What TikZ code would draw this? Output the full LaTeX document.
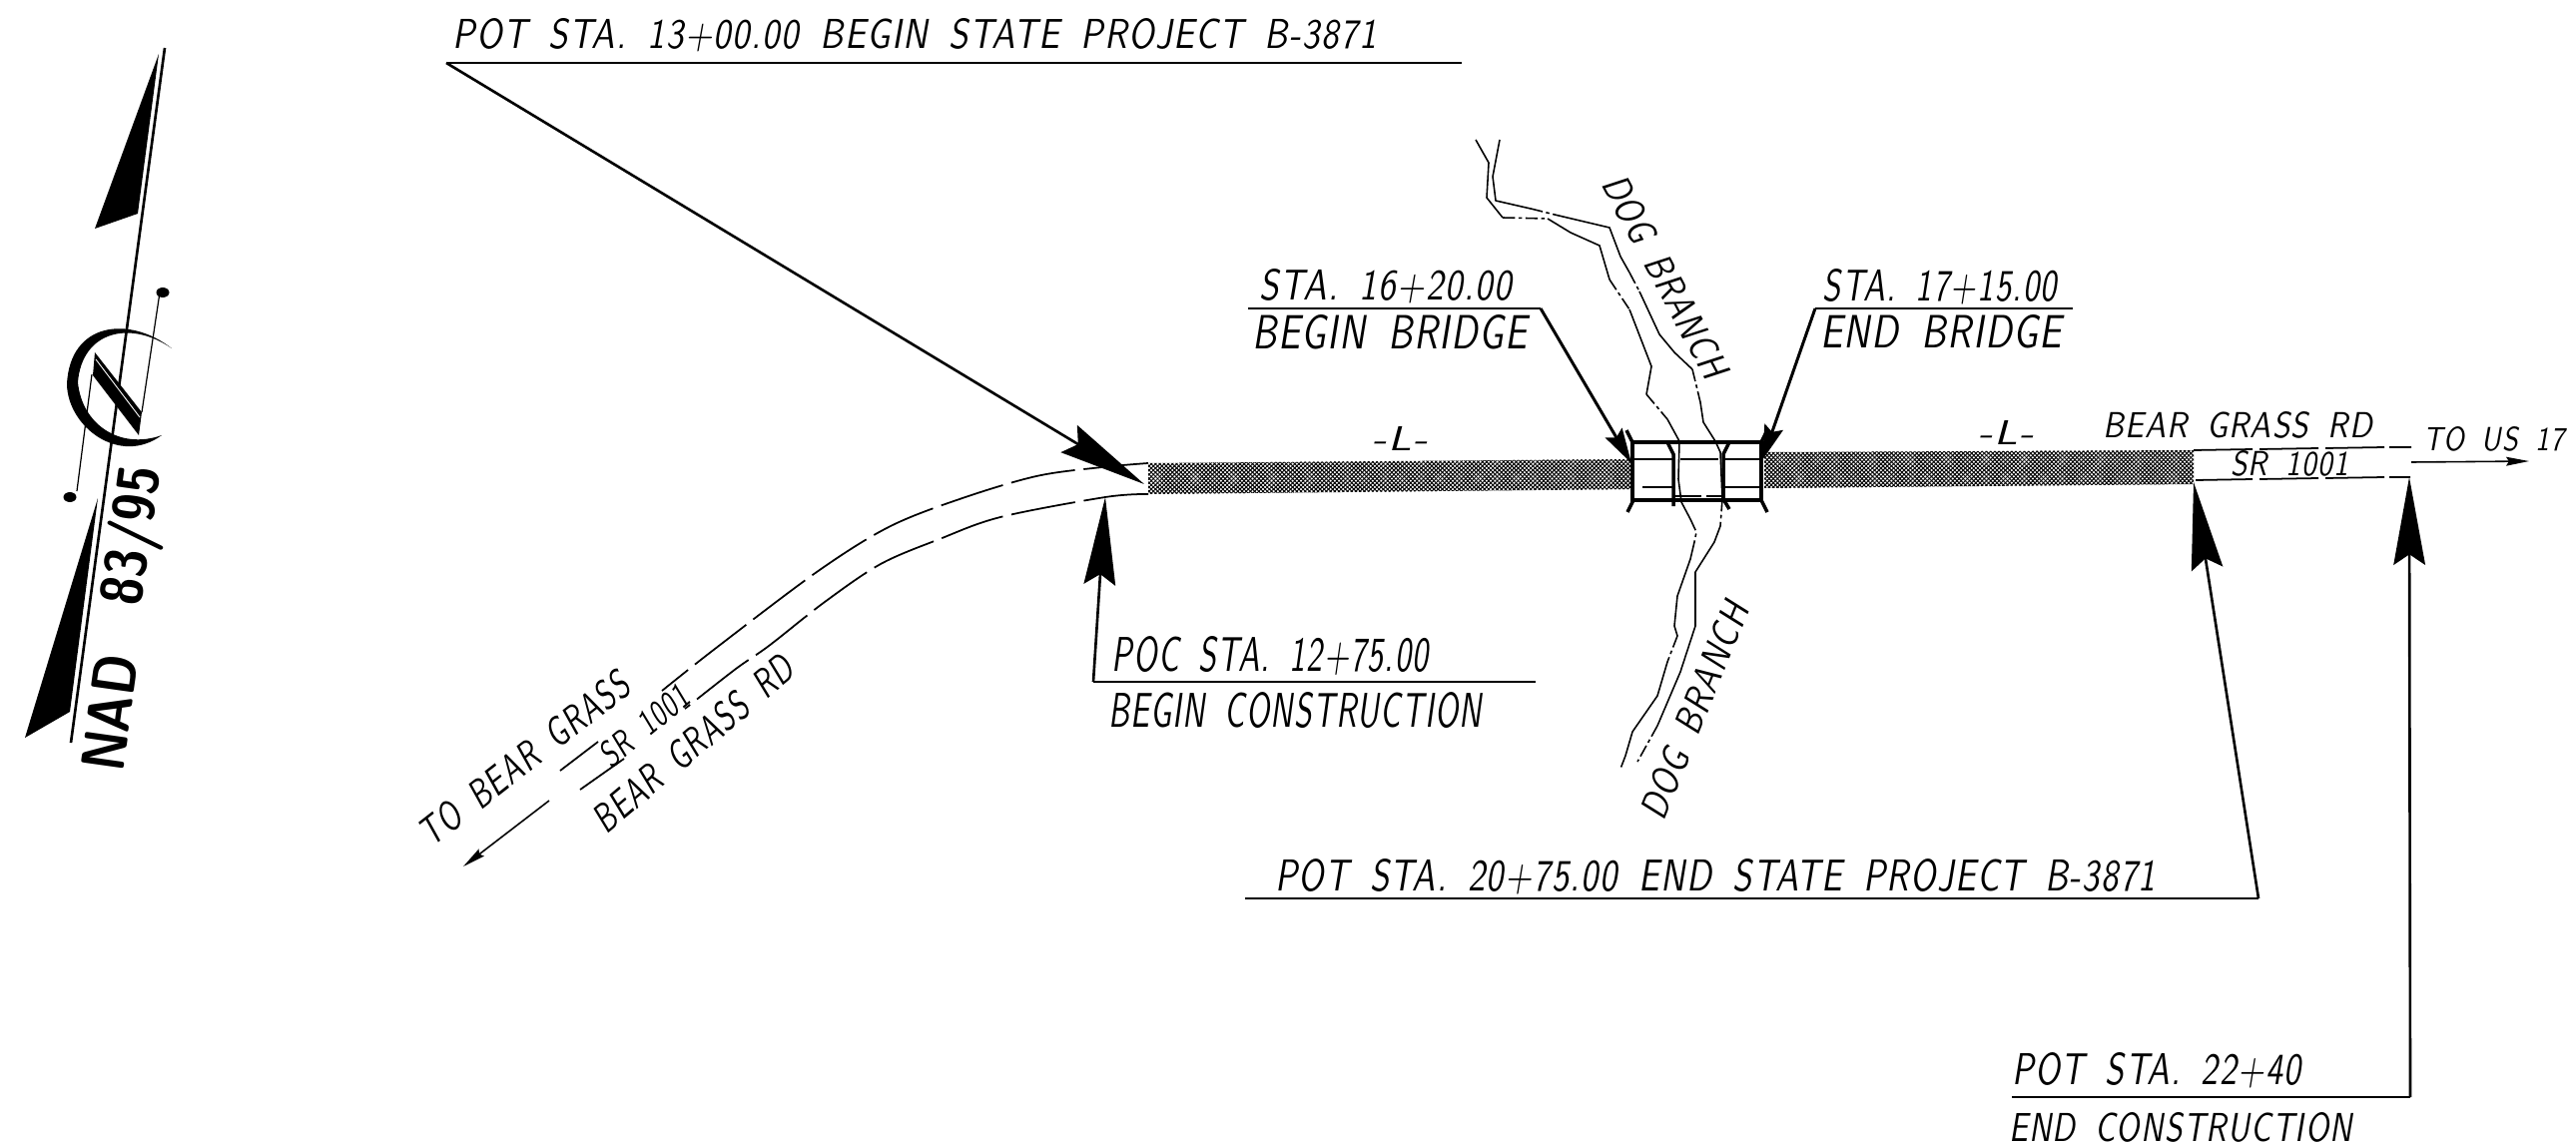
\documentclass[tikz,border=0pt]{standalone}
\usepackage{fontspec}
\setsansfont[LetterSpace=4]{Latin Modern Sans}
\newfontfamily\nadfont{Latin Modern Sans}
\usetikzlibrary{arrows.meta,patterns.meta}
\newdimen\un \un=0.02cm
\newcommand{\lbl}[7]{\node[lbltext,rotate=#4] (#1) at (#2,#3) {\resizebox{#5\un}{#6\un}{\sffamily\itshape\spaceskip=.62em #7}};}
\newcommand{\blbl}[7]{\node[lbltext,rotate=#4] (#1) at (#2,#3) {\resizebox{#5\un}{#6\un}{\nadfont\bfseries #7}};}
\tikzset{
 lbltext/.style={inner sep=0pt,outer sep=0pt},
 leader/.style={line width=1.5pt,line join=miter},
 bighead/.style={leader,-{Stealth[length=50pt,width=18pt,inset=6pt]}},
 smallhead/.style={line width=1.7pt,-{Stealth[length=20pt,width=11pt,inset=3pt]}},
 thinhead/.style={line width=.9pt,-{Stealth[length=13pt,width=5pt,inset=1.5pt]}},
 roadline/.style={line width=1pt},
 roaddash/.style={line width=1pt,dash pattern=on 37pt off 5pt},
 stream/.style={line width=.9pt,line join=round},
 streamdash/.style={line width=.9pt,dash pattern=on 7pt off 2pt on 2pt off 2pt},
 bridge/.style={line width=2pt},
 bridgethin/.style={line width=1pt},
 hatched/.style={postaction={pattern={Lines[angle=45,distance=1.7pt,line width=.58pt]}},postaction={pattern={Lines[angle=-45,distance=1.7pt,line width=.58pt]}}},
 solidk/.style={fill=black,draw=none}
}
\begin{document}
\begin{tikzpicture}[x=0.02cm,y=-0.02cm]
\useasboundingbox (0,0) rectangle (2580,1149);
% north arrow
\draw[line width=1.5pt] (165,48) -- (71,744);
\fill[solidk] (159,54) -- (95,229) -- (138,214) -- cycle;
\fill[solidk] (98,499) -- (25,739) -- (70,713) -- cycle;
\fill[solidk] (172,349) .. controls (130,316) and (70,322) .. (67,385) .. controls (68,428) and (120,467) .. (162,436) .. controls (120,451) and (82,425) .. (78,383) .. controls (82,332) and (130,320) .. (172,349) -- cycle;
\fill[solidk] (95,353) -- (142,413) -- (139,436) -- (93,376) -- cycle;
\draw[white,line width=.5pt] (96,360) -- (140,418);
\draw[line width=.7pt] (160,293) -- (142,413);
\draw[line width=.7pt] (77,492) -- (92,375);
\fill[solidk] (163,293) ellipse (6.5 and 5);
\fill[solidk] (70,498) ellipse (6.5 and 5);
\blbl{nad}{110}{714}{82}{117}{43}{NAD}
\blbl{datum}{136}{537}{82}{140}{44}{83/95}
% road shading
\path[hatched] (1150,464) -- (1635,460) -- (1635,490) -- (1150,495) -- cycle;
\path[hatched] (1767,453) -- (2197,451) -- (2197,485) -- (1767,489) -- cycle;
% road ahead, right end
\coordinate (rt0) at (2197,451); \coordinate (rt1) at (2256,450); \coordinate (rt2) at (2263,450);
\coordinate (rt3) at (2322,449); \coordinate (rt4) at (2329,449); \coordinate (rt5) at (2388,448); \coordinate (rt6) at (2393,448); \coordinate (rt7) at (2415,448);
\draw[roadline] (rt0)--(rt1) (rt2)--(rt3) (rt4)--(rt5) (rt6)--(rt7);
\coordinate (rb0) at (2199,481); \coordinate (rb1) at (2256,480); \coordinate (rb2) at (2263,480);
\coordinate (rb3) at (2322,479); \coordinate (rb4) at (2329,479); \coordinate (rb5) at (2388,478); \coordinate (rb6) at (2393,478); \coordinate (rb7) at (2414,478);
\draw[roadline] (rb0)--(rb1) (rb2)--(rb3) (rb4)--(rb5) (rb6)--(rb7);
\coordinate (usa) at (2415,463); \coordinate (usb) at (2533,462);
\draw[thinhead] (usa) -- (usb);
% road, left curve
\draw[roaddash] plot[smooth,tension=.55] coordinates {(1150,464) (1104,468) (1038,477) (961,500) (890,528) (818,573) (716,650) (663,692)};
\draw[roadline] (599,743) -- (561,772);
\draw[roaddash] plot[smooth,tension=.55] coordinates {(1150,495) (1107,498) (1002,518) (941,540) (882,565) (826,603) (770,647) (737,670) (686,710)};
\draw[roadline] (625,760) -- (581,791);
\coordinate (grassa) at (550,802); \coordinate (grassb) at (464,868);
\draw[thinhead] (grassa) -- (grassb);
% stream
\draw[stream] (1502,140) -- (1495,177) -- (1498,201) -- (1533,209);
\draw[streamdash] (1533,209) -- (1557,215);
\draw[stream] (1557,215) -- (1612,228) -- (1623,257) -- (1632,273);
\draw[streamdash] (1632,273) -- (1642,292);
\draw[stream] (1642,292) -- (1662,335) -- (1677,353) -- (1695,370);
\draw[streamdash] (1695,370) -- (1703,403);
\draw[stream] (1703,403) -- (1706,423) -- (1718,442) -- (1723,453) -- (1725,500);
\draw[streamdash] (1725,500) -- (1723,527);
\draw[stream] (1723,527) -- (1717,543) -- (1698,573) -- (1698,627) -- (1683,673) -- (1660,727);
\draw[streamdash] (1660,727) -- (1640,763);
\draw[stream] (1478,140) -- (1491,163) -- (1489,198) -- (1505,218);
\draw[streamdash] (1505,218) -- (1550,219);
\draw[stream] (1550,219) -- (1573,233) -- (1602,246) -- (1612,280);
\draw[streamdash] (1612,280) -- (1632,310);
\draw[stream] (1632,310) -- (1654,367) -- (1649,395);
\draw[streamdash] (1649,395) -- (1670,420);
\draw[stream] (1670,420) -- (1682,442) -- (1681,480) -- (1684,503) -- (1693,520);
\draw[streamdash] (1693,520) -- (1699,533) -- (1697,543);
\draw[stream] (1697,543) -- (1693,560) -- (1680,597) -- (1677,627) -- (1680,637);
\draw[streamdash] (1680,637) -- (1670,663);
\draw[stream] (1670,663) -- (1660,697) -- (1635,733) -- (1628,757);
\draw[streamdash] (1628,757) -- (1623,770);
% bridge
\draw[bridge] (1635,443) rectangle (1764,501);
\draw[bridge] (1629,431) -- (1635,443) (1636,501) -- (1630,513) (1770,431) -- (1764,443) (1764,501) -- (1770,513);
\draw[bridge] (1670,443) -- (1676,455) -- (1676,507);
\draw[bridge] (1732,443) -- (1726,455) -- (1726,500) -- (1732,510);
\draw[line width=1.5pt,dash pattern=on 16pt off 3pt] (1676,497) -- (1726,497);
\draw[bridgethin,dash pattern=on 22pt off 4pt] (1637,460) -- (1762,460);
\draw[bridgethin] (1645,488) -- (1676,488) (1726,488) -- (1763,488);
% labels with leaders
\coordinate (a1) at (1464,63); \coordinate (a2) at (447,63); \coordinate (a3) at (1146,485);
\draw[leader] (a1) -- (a2);
\draw[bighead] (a2) -- (a3);
\lbl{t1}{916}{35}{0}{925}{30}{POT STA. 13+00.00 BEGIN STATE PROJECT B-3871}

\coordinate (b1) at (1538,683); \coordinate (b2) at (1095,683); \coordinate (b3) at (1107,498);
\draw[leader] (b1) -- (b2);
\draw[bighead] (b2) -- (b3);
\lbl{t2a}{1272}{657}{0}{317}{35}{POC STA. 12+75.00}
\lbl{t2b}{1297}{712}{0}{374}{35}{BEGIN CONSTRUCTION}

\coordinate (c1) at (1250,309); \coordinate (c2) at (1543,309); \coordinate (c3) at (1634,464);
\draw[leader] (c1) -- (c2);
\draw[smallhead] (c2) -- (c3);
\lbl{t3a}{1388}{287}{0}{252}{31}{STA. 16+20.00}
\lbl{t3b}{1392}{333}{0}{275}{34}{BEGIN BRIDGE}

\coordinate (d1) at (2076,309); \coordinate (d2) at (1818,309); \coordinate (d3) at (1765,461);
\draw[leader] (d1) -- (d2);
\draw[smallhead] (d2) -- (d3);
\lbl{t4a}{1943}{287}{0}{234}{32}{STA. 17+15.00}
\lbl{t4b}{1944}{332}{0}{242}{33}{END BRIDGE}

\coordinate (e1) at (1247,900); \coordinate (e2) at (2262,900); \coordinate (e3) at (2197,483);
\draw[leader] (e1) -- (e2);
\draw[bighead] (e2) -- (e3);
\lbl{t5}{1718}{878}{0}{882}{32}{POT STA. 20+75.00 END STATE PROJECT B-3871}

\coordinate (f1) at (2015,1099); \coordinate (f2) at (2414,1099); \coordinate (f3) at (2413,478);
\draw[leader] (f1) -- (f2);
\draw[bighead] (f2) -- (f3);
\lbl{t6a}{2160}{1072}{0}{289}{32}{POT STA. 22+40}
\lbl{t6b}{2184}{1129}{0}{344}{29}{END CONSTRUCTION}
% road and stream labels
\lbl{l1}{1402}{439}{0}{56}{24}{-L-}
\lbl{l2}{2009}{433}{0}{56}{24}{-L-}
\lbl{br}{2241}{426}{0}{270}{26}{BEAR GRASS RD}
\lbl{sr}{2293}{464}{0}{118}{25}{SR 1001}
\lbl{us}{2498}{440}{0}{142}{24}{TO US 17}
\lbl{bl}{525}{760}{38}{256}{29}{TO BEAR GRASS}
\lbl{sl}{645}{727}{40}{105}{26}{SR 1001}
\lbl{gl}{694}{745}{40}{250}{29}{BEAR GRASS RD}
\lbl{dog1}{1668}{277}{-62}{225}{28}{DOG BRANCH}
\lbl{dog2}{1697}{712}{68}{230}{28}{DOG BRANCH}
\end{tikzpicture}
\end{document}
